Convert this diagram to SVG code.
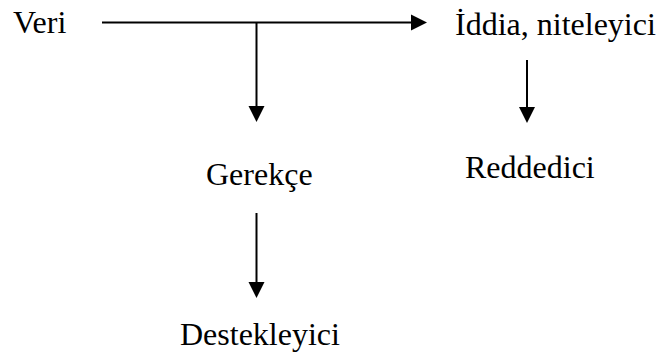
<svg xmlns="http://www.w3.org/2000/svg" width="660" height="354" viewBox="0 0 660 354">
  <style>
    text { font-family: "Liberation Serif", "Times New Roman", serif; font-size: 32px; fill: #000; }
    .edge { stroke: #000; stroke-width: 2; fill: none; }
    .head { fill: #000; }
  </style>
  <rect width="660" height="354" fill="#fff"/>
  <g id="edges">
    <!-- Veri -> İddia, with a branch down to Gerekçe -->
    <line class="edge" x1="102" y1="22.5" x2="412" y2="22.5"/>
    <polygon class="head" points="411,14.5 427,22.5 411,30.5"/>
    <line class="edge" x1="256.5" y1="22.5" x2="256.5" y2="107"/>
    <polygon class="head" points="248.5,106 256.5,122 264.5,106"/>
    <!-- İddia -> Reddedici -->
    <line class="edge" x1="527" y1="60" x2="527" y2="108"/>
    <polygon class="head" points="519,107 527,123 535,107"/>
    <!-- Gerekçe -> Destekleyici -->
    <line class="edge" x1="256.5" y1="213" x2="256.5" y2="283"/>
    <polygon class="head" points="248.5,282 256.5,298 264.5,282"/>
  </g>
  <g id="veri"><text x="13" y="33">Veri</text></g>
  <g id="iddia"><text x="455" y="35">İddia, niteleyici</text></g>
  <g id="gerekce"><text x="206" y="185">Gerekçe</text></g>
  <g id="reddedici"><text x="465" y="178">Reddedici</text></g>
  <g id="destekleyici"><text x="180" y="345">Destekleyici</text></g>
</svg>
